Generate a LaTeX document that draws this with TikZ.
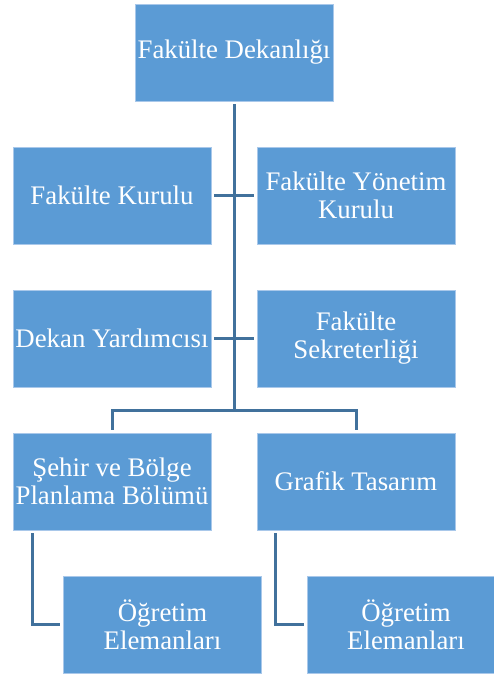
\documentclass[tikz,border=0pt]{standalone}
\usepackage{fontspec}
\setmainfont{Liberation Serif}
\definecolor{boxfill}{HTML}{5B9BD5}
\definecolor{boxline}{HTML}{A9C8EA}
\definecolor{connline}{HTML}{41719C}
\begin{document}
\begin{tikzpicture}[x=1pt,y=-1pt,
  orgbox/.style={rectangle, draw=boxline, line width=0.8pt, fill=boxfill,
    minimum width=198pt, minimum height=97pt, inner sep=1pt, align=center,
    text=white, font=\fontsize{26.8}{28}\selectfont},
  conn/.style={draw=connline, line width=3pt, shorten >=3pt, shorten <=3pt}]
\useasboundingbox (0,0) rectangle (494,674);
\clip (0,0) rectangle (494,674);
\node[orgbox] (dek) at (234,52.5) {Fakülte Dekanlığı};
\node[orgbox] (fk) at (112,195.5) {Fakülte Kurulu};
\node[orgbox] (fyk) at (356,195.5) {Fakülte Yönetim\\Kurulu};
\node[orgbox] (dy) at (112,338.5) {Dekan Yardımcısı};
\node[orgbox] (fs) at (356,338.5) {Fakülte\\Sekreterliği};
\node[orgbox] (sbp) at (112,481.5) {Şehir ve Bölge\\Planlama Bölümü};
\node[orgbox] (gt) at (356,481.5) {Grafik Tasarım};
\node[orgbox] (oe1) at (162.5,624.5) {Öğretim\\Elemanları};
\node[orgbox] (oe2) at (406,624.5) {Öğretim\\Elemanları};
\coordinate (bar) at (234,410);
\draw[conn, shorten >=0pt] (dek.south) -- (bar);
\draw[conn] (fk.east) -- (fyk.west);
\draw[conn] (dy.east) -- (fs.west);
\draw[conn] (sbp.north) |- (bar) -| (gt.north);
\draw[conn] ([xshift=20pt]sbp.south west) |- (oe1.west);
\draw[conn] ([xshift=19pt]gt.south west) |- (oe2.west);
\end{tikzpicture}
\end{document}
